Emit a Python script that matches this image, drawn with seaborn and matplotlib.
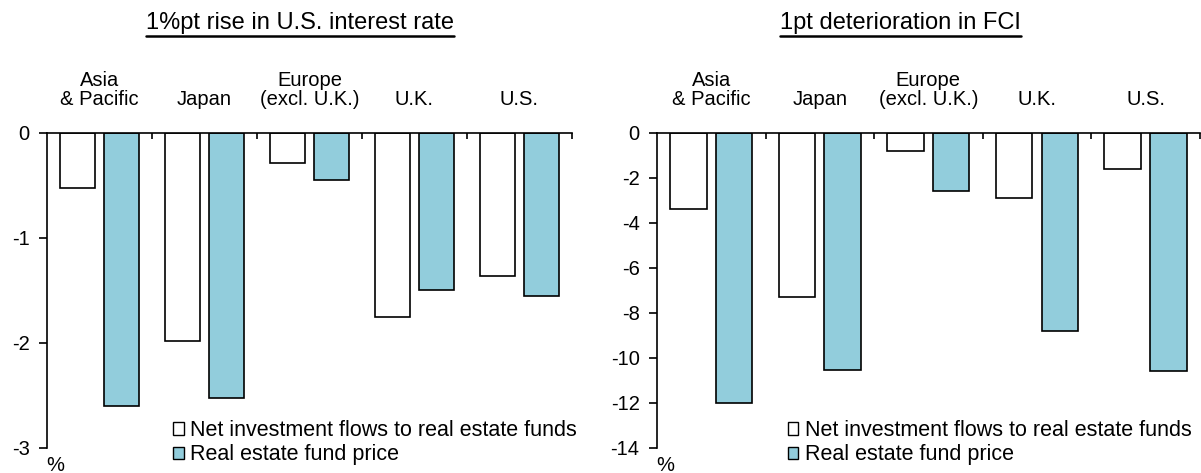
import matplotlib
matplotlib.use("Agg")
import matplotlib.pyplot as plt
from matplotlib.patches import Patch
from matplotlib.lines import Line2D
import seaborn as sns
import pandas as pd

# Regions and responses of real estate funds to each shock
regions = ["Asia\n& Pacific", "Japan", "Europe\n(excl. U.K.)", "U.K.", "U.S."]
series_names = ["Net investment flows to real estate funds", "Real estate fund price"]

rate_flows = [-0.52, -1.98, -0.29, -1.75, -1.36]
rate_price = [-2.60, -2.52, -0.45, -1.50, -1.55]

fci_flows = [-3.4, -7.3, -0.8, -2.9, -1.6]
fci_price = [-12.0, -10.55, -2.6, -8.8, -10.6]

panel_titles = ["1%pt rise in U.S. interest rate", "1pt deterioration in FCI"]
rate_yticks = [0, -1, -2, -3]
fci_yticks = [0, -2, -4, -6, -8, -10, -12, -14]

colors = ["#FFFFFF", "#92CDDC"]

sns.set_style("white")
plt.rcParams["font.family"] = ["Liberation Sans", "DejaVu Sans"]
plt.rcParams["axes.unicode_minus"] = False
plt.rcParams["text.color"] = "black"
plt.rcParams["xtick.color"] = "black"
plt.rcParams["ytick.color"] = "black"
plt.rcParams["xtick.labelcolor"] = "black"
plt.rcParams["ytick.labelcolor"] = "black"

FS = 14.5
LEG_FS = 15.5
TITLE_FS = 17


def long_frame(flows, price):
    return pd.DataFrame({
        "region": regions * 2,
        "series": [series_names[0]] * len(regions) + [series_names[1]] * len(regions),
        "value": list(flows) + list(price),
    })


fig = plt.figure(figsize=(12.01, 4.73), dpi=100)
ax_l = fig.add_axes([0.0391, 0.0529, 0.4371, 0.666])
ax_r = fig.add_axes([0.547, 0.0529, 0.452, 0.666])

panels = [
    (ax_l, long_frame(rate_flows, rate_price), rate_yticks, 1.01),
    (ax_r, long_frame(fci_flows, fci_price), fci_yticks, 0.985),
]

for ax, df, yticks, leg_x in panels:
    sns.barplot(data=df, x="region", y="value", hue="series", order=regions,
                hue_order=series_names, palette=colors, edgecolor="black",
                linewidth=1.2, width=0.84, gap=0.2, saturation=1,
                errorbar=None, legend=False, ax=ax)
    ax.set_xlim(-0.5, len(regions) - 0.5)
    ax.set_ylim(min(yticks), 0)
    ax.set_yticks(yticks)
    ax.set_yticklabels([str(t) for t in yticks], fontsize=FS)
    ax.set_xlabel("")
    ax.set_ylabel("")

    # category names above the zero line, boundary ticks hanging into the plot
    ax.xaxis.set_ticks_position("top")
    ax.xaxis.set_label_position("top")
    ax.set_xticks(range(len(regions)))
    ax.set_xticklabels(regions, fontsize=FS, linespacing=1.05)
    ax.set_xticks([i + 0.5 for i in range(len(regions))], minor=True)
    ax.tick_params(axis="x", which="major", length=0, pad=17)
    ax.tick_params(axis="x", which="minor", direction="in", length=4.5,
                   width=1.2, color="black", top=True, bottom=False)
    ax.tick_params(axis="y", direction="out", length=5.5, width=1.2,
                   color="black", pad=7, left=True)

    for side in ["right", "bottom"]:
        ax.spines[side].set_visible(False)
    for side in ["left", "top"]:
        ax.spines[side].set_visible(True)
        ax.spines[side].set_color("black")
        ax.spines[side].set_linewidth(1.2)

    ax.annotate("%", xy=(0, 0), xycoords="axes fraction", xytext=(6, -6),
                textcoords="offset points", ha="center", va="top", fontsize=FS)

    handles = [Patch(facecolor=c, edgecolor="black", linewidth=1.0) for c in colors]
    ax.legend(handles, series_names, loc="lower right", bbox_to_anchor=(leg_x, -0.055),
              frameon=False, fontsize=LEG_FS, handlelength=0.5, handleheight=0.5,
              handletextpad=0.3, labelspacing=0.15, borderpad=0, borderaxespad=0)

# underlined panel titles
title_texts = []
for x, t in zip([0.25, 0.75], panel_titles):
    title_texts.append(fig.text(x, 0.951, t, ha="center", va="center", fontsize=TITLE_FS))

fig.canvas.draw()
renderer = fig.canvas.get_renderer()
inv = fig.transFigure.inverted()
for txt in title_texts:
    bb = txt.get_window_extent(renderer)
    (x0, y0), (x1, y1) = inv.transform([(bb.x0, bb.y0), (bb.x1, bb.y1)])
    fig.add_artist(Line2D([x0, x1], [y0 - 0.003, y0 - 0.003], transform=fig.transFigure,
                          color="black", linewidth=1.8))

fig.savefig("out.png", dpi=100)
